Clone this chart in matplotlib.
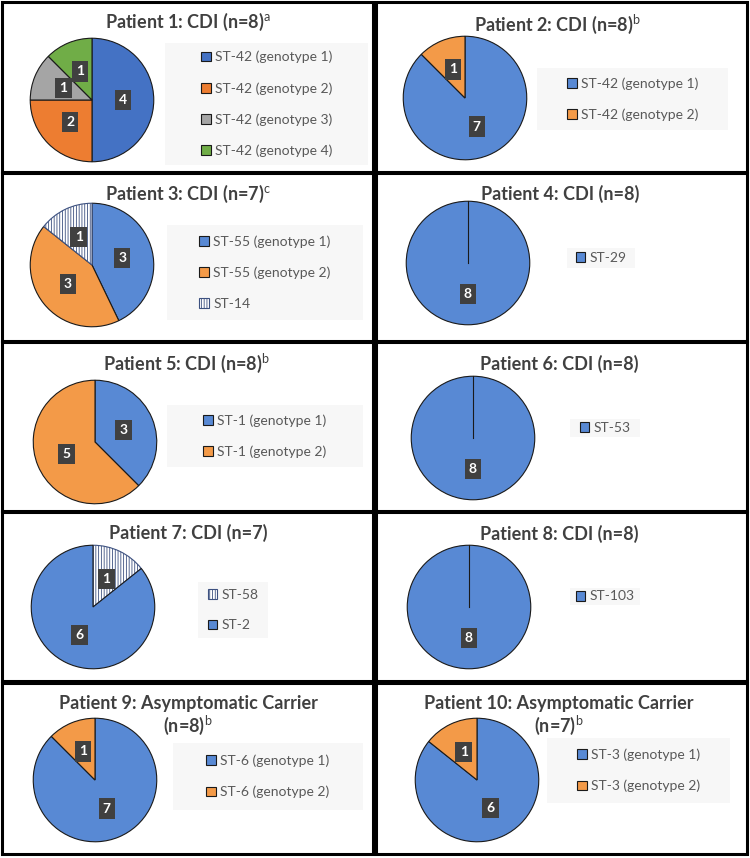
import matplotlib
matplotlib.use("Agg")
import matplotlib.pyplot as plt
from matplotlib.patches import Rectangle

plt.rcParams['font.family'] = ['Lato', 'DejaVu Sans']
plt.rcParams['mathtext.fontset'] = 'custom'
plt.rcParams['mathtext.rm'] = 'Lato'
plt.rcParams['hatch.linewidth'] = 0.6

W, H = 750, 858

# data for each patient panel
titles = [
    r"Patient 1: CDI (n=8)$^{\mathrm{a}}$",
    r"Patient 2: CDI (n=8)$^{\mathrm{b}}$",
    r"Patient 3: CDI (n=7)$^{\mathrm{c}}$",
    "Patient 4: CDI (n=8)",
    r"Patient 5: CDI (n=8)$^{\mathrm{b}}$",
    "Patient 6: CDI (n=8)",
    "Patient 7: CDI (n=7)",
    "Patient 8: CDI (n=8)",
    "Patient 9: Asymptomatic Carrier\n" + r"(n=8)$^{\mathrm{b}}$",
    "Patient 10: Asymptomatic Carrier\n" + r"(n=7)$^{\mathrm{b}}$",
]
labels = [
    ["ST-42 (genotype 1)", "ST-42 (genotype 2)", "ST-42 (genotype 3)", "ST-42 (genotype 4)"],
    ["ST-42 (genotype 1)", "ST-42 (genotype 2)"],
    ["ST-55 (genotype 1)", "ST-55 (genotype 2)", "ST-14"],
    ["ST-29"],
    ["ST-1 (genotype 1)", "ST-1 (genotype 2)"],
    ["ST-53"],
    ["ST-58", "ST-2"],
    ["ST-103"],
    ["ST-6 (genotype 1)", "ST-6 (genotype 2)"],
    ["ST-3 (genotype 1)", "ST-3 (genotype 2)"],
]
counts = [
    [4, 2, 1, 1],
    [7, 1],
    [3, 3, 1],
    [8],
    [3, 5],
    [8],
    [1, 6],
    [8],
    [7, 1],
    [6, 1],
]
blue, orange = "#5889d4", "#f39a48"
colors = [
    ["#4472c4", "#ed7d31", "#a5a5a5", "#70ad47"],
    [blue, orange],
    [blue, orange, "white"],
    [blue],
    [blue, orange],
    [blue],
    ["white", blue],
    [blue],
    [blue, orange],
    [blue, orange],
]
hatches = [
    [None] * 4, [None] * 2, [None, None, "||||||"], [None], [None] * 2,
    [None], ["||||||", None], [None], [None] * 2, [None] * 2,
]

# layout in pixels (panel box, title centre, pie centre, legend box)
boxes = [(2, 2, 373, 172), (376, 2, 747, 172),
         (2, 173, 373, 341), (376, 173, 747, 341),
         (2, 342, 373, 511), (376, 342, 747, 511),
         (2, 512, 373, 681), (376, 512, 747, 681),
         (2, 683, 373, 854), (376, 683, 747, 854)]
title_pos = [(188, 22), (557, 24), (188, 194), (560, 194), (186, 363),
             (559, 364), (188, 533), (559, 534), (188, 716), (559, 716)]
pie_pos = [(92, 100), (465, 98), (92, 265), (468, 263), (95, 442),
           (473, 438), (93, 607), (469, 607), (95, 780), (477, 780)]
radius = 63
leg_box = [(165, 43, 368, 165), (537, 68, 728, 130), (167, 225, 363, 320),
           (567, 248, 635, 268), (167, 405, 363, 467), (570, 419, 640, 437),
           (198, 582, 268, 638), (570, 588, 640, 605), (173, 743, 363, 810),
           (547, 738, 730, 803)]

fig = plt.figure(figsize=(W / 100, H / 100), dpi=100)

for i in range(10):
    x0, y0, x1, y1 = boxes[i]
    fig.patches.append(Rectangle((x0 / W, 1 - y1 / H), (x1 - x0) / W, (y1 - y0) / H,
                                 transform=fig.transFigure, fill=False,
                                 edgecolor="black", linewidth=2.2, zorder=5))

    tx, ty = title_pos[i]
    fig.text(tx / W, 1 - ty / H, titles[i], ha="center", va="center",
             fontsize=13, fontweight="bold", color="#404040", linespacing=1.05)

    lx0, ly0, lx1, ly1 = leg_box[i]
    fig.patches.append(Rectangle((lx0 / W, 1 - ly1 / H), (lx1 - lx0) / W, (ly1 - ly0) / H,
                                 transform=fig.transFigure, facecolor="#f7f7f7",
                                 edgecolor="none", zorder=-1))

    cx, cy = pie_pos[i]
    ax = fig.add_axes([(cx - radius) / W, 1 - (cy + radius) / H,
                       2 * radius / W, 2 * radius / H])
    vals = counts[i]
    total = sum(vals)
    wedges, _, autotexts = ax.pie(
        vals, colors=colors[i], startangle=90, counterclock=False, radius=1,
        autopct=lambda p, t=total: f"{round(p * t / 100)}", pctdistance=0.5,
        wedgeprops=dict(edgecolor="#1a1a1a", linewidth=0.8),
        textprops=dict(color="white", fontweight="bold", fontsize=10))
    for w, h in zip(wedges, hatches[i]):
        if h:
            w.set_hatch(h)
            w.set_edgecolor("#3d5180")
    for t in autotexts:
        t.set_bbox(dict(boxstyle="square,pad=0.3", facecolor="#404040", edgecolor="none"))
    if len(vals) == 1:
        ax.plot([0, 0], [0, 1], color="#1a1a1a", linewidth=0.8)
    ax.set_xlim(-1.02, 1.02)
    ax.set_ylim(-1.02, 1.02)
    ax.axis("off")

    ax.legend(wedges, labels[i], loc="center",
              bbox_to_anchor=((lx0 + lx1) / 2 / W, 1 - (ly0 + ly1) / 2 / H),
              bbox_transform=fig.transFigure, frameon=False, fontsize=10,
              labelcolor="#595959", handlelength=0.7, handleheight=0.7,
              handletextpad=0.3, labelspacing=1.35, borderpad=0)

fig.savefig("out.png", dpi=100, facecolor="white")
